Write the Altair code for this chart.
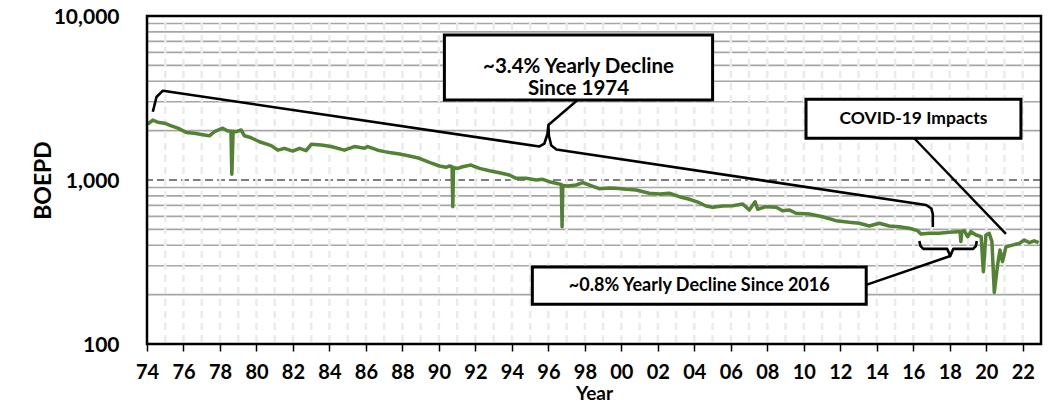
import altair as alt
import pandas as pd

# ---- production series (BOEPD) ----
prod_year = [
    1974.04, 1974.32, 1974.59, 1974.96, 1975.33, 1975.69, 1976.15, 1976.60, 1977.15, 1977.42,
    1977.70, 1978.15, 1978.43, 1978.60, 1978.65, 1978.72, 1978.89, 1979.16, 1979.34, 1979.71,
    1980.16, 1980.81, 1981.17, 1981.53, 1981.99, 1982.36, 1982.72, 1983.00, 1983.55, 1984.09,
    1984.82, 1985.37, 1985.92, 1986.10, 1986.65, 1987.01, 1987.29, 1987.84, 1988.38, 1988.93,
    1989.48, 1990.03, 1990.39, 1990.58, 1990.72, 1990.76, 1990.80, 1991.03, 1991.30, 1991.76,
    1992.22, 1992.77, 1993.32, 1993.86, 1994.23, 1994.78, 1995.33, 1995.69, 1996.05, 1996.60,
    1996.71, 1996.75, 1996.79, 1997.06, 1997.52, 1997.88, 1998.25, 1998.79, 1999.34, 1999.71,
    2000.26, 2000.81, 2001.53, 2002.08, 2002.63, 2003.18, 2003.73, 2004.27, 2004.64, 2005.00,
    2005.55, 2006.10, 2006.65, 2007.01, 2007.33, 2007.47, 2007.93, 2008.48, 2008.84, 2009.21,
    2009.57, 2010.30, 2011.03, 2011.76, 2012.49, 2013.04, 2013.59, 2014.14, 2014.68, 2015.23,
    2015.78, 2016.24, 2016.42, 2016.88, 2017.42, 2017.97, 2018.43, 2018.56, 2018.61, 2018.66,
    2018.79, 2018.98, 2019.16, 2019.44, 2019.72, 2019.84, 2019.98, 2020.16, 2020.31, 2020.44,
    2020.62, 2020.75, 2020.89, 2021.08, 2021.44, 2021.81, 2022.08, 2022.36, 2022.63, 2022.87,
]
prod_boepd = [
    2190, 2320, 2250, 2220, 2140, 2070, 1950, 1930, 1880, 1860,
    1970, 2070, 1990, 1990, 1083, 1980, 1970, 2020, 1860, 1810,
    1710, 1620, 1520, 1560, 1500, 1560, 1510, 1650, 1635, 1600,
    1520, 1600, 1560, 1600, 1520, 1490, 1470, 1440, 1400, 1356,
    1282, 1217, 1195, 1217, 1205, 688, 1190, 1178, 1205, 1234,
    1178, 1139, 1108, 1073, 1024, 1024, 1000, 1010, 976, 945,
    940, 519, 925, 919, 932, 963, 932, 885, 895, 890,
    878, 869, 830, 822, 830, 791, 763, 727, 694, 682,
    694, 697, 714, 656, 737, 663, 688, 682, 650, 656,
    627, 620, 597, 565, 552, 545, 524, 545, 524, 519,
    508, 491, 469, 473, 473, 480, 484, 484, 421, 484,
    491, 451, 484, 462, 451, 276, 462, 473, 421, 206,
    303, 374, 318, 392, 401, 411, 431, 415, 426, 415,
]

# ---- axes / grid ----
x_domain = [1974, 2023]
y_domain = [100, 10000]
x_ticks = list(range(1974, 2023, 2))
y_ticks = [100, 1000, 10000]
minor_grid = [200, 300, 400, 500, 600, 700, 800, 900,
              2000, 3000, 4000, 5000, 6000, 7000, 8000, 9000]
major_grid = [1000]
year_grid = list(range(1975, 2023))

# ---- annotations (data units) ----
brace1_x = [1974.32, 1974.52, 1974.87, 1995.51, 1995.78, 1995.95, 1996.00, 1996.03, 1996.16,
            1996.44, 2016.70, 2016.99, 2017.07, 2017.07]
brace1_y = [2609, 3207, 3504, 1601, 1669, 1908, 2164, 1855, 1623,
            1535, 704, 670, 620, 517]
brace2_x = [2016.33, 2016.40, 2016.55, 2017.86, 2018.03, 2018.19, 2019.28, 2019.43, 2019.48]
brace2_y = [425, 395, 380, 380, 344, 380, 380, 395, 425]

link_x = [[1996.00, 1997.60], [2016.05, 2021.08], [2013.42, 2018.03]]
link_y = [[2164, 3074], [1796, 469], [229, 344]]

box_labels = ["~3.4% Yearly Decline\nSince 1974", "COVID-19 Impacts",
              "~0.8% Yearly Decline Since 2016"]
box_font = [20.5, 17.5, 18]
box_x1 = [1990.30, 2010.12, 1995.12]
box_x2 = [2005.00, 2021.90, 2013.42]
box_y1 = [3074, 1796, 175]
box_y2 = [7656, 3105, 295]
box_tx = [1997.65, 2016.01, 2004.27]
box_ty = [4853, 2361, 227]

FONT = "Lato"
GREEN = "#548235"

x_scale = alt.Scale(domain=x_domain, nice=False, zero=False)
y_scale = alt.Scale(type="log", domain=y_domain, nice=False)

x_axis = alt.Axis(values=x_ticks, title="Year", grid=False, domain=False,
                  labelExpr="format(datum.value % 100, '02d')", labelOverlap=False,
                  labelFlush=False,
                  tickColor="black", tickSize=7, tickWidth=1.5,
                  labelFont=FONT, labelFontSize=20, labelFontWeight="bold", labelColor="black",
                  labelPadding=11, titleFont=FONT, titleFontSize=19, titleFontWeight="bold",
                  titleColor="black", titlePadding=2)
y_axis = alt.Axis(values=y_ticks, title="BOEPD", grid=False, domain=False, ticks=False,
                  format=",", labelFont=FONT, labelFontSize=21, labelFontWeight="bold",
                  labelColor="black", labelPadding=28, labelFlush=False,
                  labelBaseline="alphabetic", labelOffset=7.5,
                  titleFont=FONT, titleFontSize=23,
                  titleFontWeight="bold", titleColor="black", titlePadding=-2)


def X(f):
    return alt.X(f, type="quantitative", scale=x_scale, axis=x_axis)


def Y(f):
    return alt.Y(f, type="quantitative", scale=y_scale, axis=y_axis)


prod = pd.DataFrame({"year": prod_year, "boepd": prod_boepd})
minor_df = pd.DataFrame({"v": minor_grid})
major_df = pd.DataFrame({"v": major_grid})
vgrid_df = pd.DataFrame({"year": year_grid, "lo": [103] * len(year_grid),
                         "hi": [9700] * len(year_grid)})
b1 = pd.DataFrame({"year": brace1_x, "boepd": brace1_y, "o": list(range(len(brace1_x)))})
b2 = pd.DataFrame({"year": brace2_x, "boepd": brace2_y, "o": list(range(len(brace2_x)))})
links = pd.DataFrame({
    "year": [p for seg in link_x for p in seg],
    "boepd": [p for seg in link_y for p in seg],
    "g": [i for i, seg in enumerate(link_x) for _ in seg],
    "o": [j for seg in link_x for j, _ in enumerate(seg)],
})
boxes = pd.DataFrame({"x1": box_x1, "x2": box_x2, "y1": box_y1, "y2": box_y2,
                      "tx": box_tx, "ty": box_ty, "label": box_labels, "fs": box_font})
frame = pd.DataFrame({"x1": [x_domain[0]], "x2": [x_domain[1]],
                      "y1": [y_domain[0]], "y2": [y_domain[1]]})

minor_layer = alt.Chart(minor_df).mark_rule(color="#a6a6a6", strokeWidth=1.6).encode(y=Y("v"))
major_layer = alt.Chart(major_df).mark_rule(color="#7f7f7f", strokeWidth=1.8,
                                            strokeDash=[8, 4]).encode(y=Y("v"))
vgrid_layer = alt.Chart(vgrid_df).mark_rule(color="#ebebeb", strokeWidth=2.5,
                                            strokeDash=[7, 5]).encode(
    x=X("year"), y=Y("lo"), y2="hi")
line_layer = alt.Chart(prod).mark_line(color=GREEN, strokeWidth=3.5,
                                       strokeJoin="round").encode(
    x=X("year"), y=Y("boepd"), order="year:Q")
b1_layer = alt.Chart(b1).mark_line(color="black", strokeWidth=2.6, strokeJoin="round").encode(
    x=X("year"), y=Y("boepd"), order="o:Q")
b2_layer = alt.Chart(b2).mark_line(color="black", strokeWidth=2.6, strokeJoin="round").encode(
    x=X("year"), y=Y("boepd"), order="o:Q")
link_layer = alt.Chart(links).mark_line(color="black", strokeWidth=2.4).encode(
    x=X("year"), y=Y("boepd"), detail="g:N", order="o:Q")
box_layer = alt.Chart(boxes).mark_rect(fill="white", stroke="black", strokeWidth=3).encode(
    x=X("x1"), x2="x2", y=Y("y1"), y2="y2")
text_layer = alt.Chart(boxes).mark_text(font=FONT, fontWeight="bold",
                                        color="black", lineBreak="\n", lineHeight=22,
                                        align="center", baseline="middle").encode(
    x=X("tx"), y=Y("ty"), text="label:N",
    size=alt.Size("fs:Q", scale=None, legend=None))
frame_layer = alt.Chart(frame).mark_rect(filled=False, stroke="black",
                                         strokeWidth=2.5).encode(
    x=X("x1"), x2="x2", y=Y("y1"), y2="y2")

chart = alt.layer(
    minor_layer, major_layer, vgrid_layer, line_layer, b1_layer, b2_layer,
    link_layer, box_layer, text_layer, frame_layer
).properties(
    width=894, height=328,
    autosize=alt.AutoSizeParams(type="none"),
    padding={"left": 139, "top": 8, "right": 7, "bottom": 62},
).configure_view(strokeWidth=0)

chart.save("out.html", embed_options={"renderer": "svg", "actions": False})
